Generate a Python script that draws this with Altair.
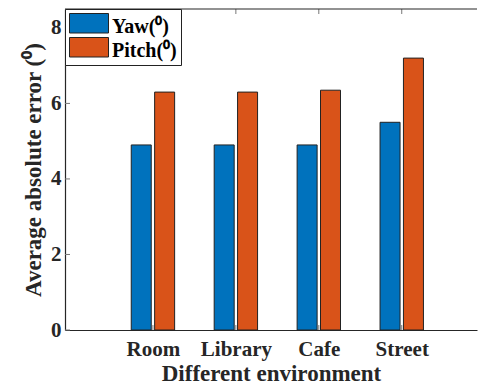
import altair as alt
import pandas as pd

categories = ["Room", "Library", "Cafe", "Street"]
yaw = [4.9, 4.9, 4.9, 5.5]
pitch = [6.3, 6.3, 6.35, 7.2]
series_names = ["Yaw(\u2070)", "Pitch(\u2070)"]
colors = ["#0072BD", "#D95319"]
y_ticks = [0, 2, 4, 6, 8]

rows = []
for i, c in enumerate(categories):
    rows.append({"category": c, "idx": i + 1, "series": series_names[0], "sidx": 0, "value": yaw[i]})
    rows.append({"category": c, "idx": i + 1, "series": series_names[1], "sidx": 1, "value": pitch[i]})
df = pd.DataFrame(rows)
xt_df = pd.DataFrame({"xpos": [i + 1 for i in range(len(categories))]})
yt_df = pd.DataFrame({"value": y_ticks})

W, H = 412, 321
XMAX = W / 85.0
FONT = "Liberation Serif"
AX = "#262626"
label_expr = "[" + ",".join("'%s'" % c for c in categories) + "][datum.value - 1]"
xscale = alt.Scale(domain=[0, XMAX], nice=False, zero=False)
yscale = alt.Scale(domain=[0, 8.5], nice=False)

bars = alt.Chart(df).transform_calculate(
    xpos="datum.idx + (datum.sidx == 0 ? -0.141 : 0.141)"
).mark_bar(size=20, stroke="#222222", strokeWidth=1).encode(
    x=alt.X("xpos:Q", scale=xscale,
            axis=alt.Axis(values=[1, 2, 3, 4], labelExpr=label_expr, title="Different environment",
                          grid=False, ticks=False, labelPadding=8, titlePadding=3,
                          titleFontSize=23,
                          domainColor=AX, domainWidth=1.2)),
    y=alt.Y("value:Q", scale=yscale,
            axis=alt.Axis(values=y_ticks, title="Average absolute error (\u2070)", grid=False, ticks=False,
                          labelPadding=4, titlePadding=5, titleFontSize=23,
                          domainColor=AX, domainWidth=1.2)),
    color=alt.Color("series:N",
                    scale=alt.Scale(domain=series_names, range=colors),
                    legend=alt.Legend(title=None, orient="top-left", offset=0,
                                      strokeColor="#222222", fillColor="white", padding=4,
                                      symbolType="M-1,-1H1V0H-1Z", symbolSize=1521,
                                      symbolStrokeColor="#222222", symbolStrokeWidth=1,
                                      labelFont=FONT, labelFontSize=20, labelFontWeight="bold",
                                      labelBaseline="alphabetic",
                                      labelColor="black", rowPadding=-13, labelOffset=3)),
)

# inward tick marks (MATLAB style)
ytick_marks = alt.Chart(yt_df).mark_rule(color="#777777", strokeWidth=1).encode(
    y=alt.Y("value:Q", scale=yscale), x=alt.value(0), x2=alt.value(5)
)
xtick_bottom = alt.Chart(xt_df).mark_rule(color="#777777", strokeWidth=1).encode(
    x=alt.X("xpos:Q", scale=xscale), y=alt.value(H), y2=alt.value(H - 5)
)
xtick_top = alt.Chart(xt_df).mark_rule(color="#777777", strokeWidth=1).encode(
    x=alt.X("xpos:Q", scale=xscale), y=alt.value(0), y2=alt.value(5)
)

top = alt.Chart(pd.DataFrame({"a": [0]})).mark_rule(color=AX, strokeWidth=1.2).encode(
    y=alt.value(0), x=alt.value(0), x2=alt.value(W)
)

chart = alt.layer(bars, ytick_marks, xtick_bottom, xtick_top, top).properties(
    width=W, height=H, padding={"left": 14, "top": 0, "right": 0, "bottom": 0}
).configure_view(stroke=None).configure_axis(
    labelFont=FONT, titleFont=FONT, labelFontSize=21,
    labelFontWeight="bold", titleFontWeight="bold", labelColor=AX, titleColor=AX
)

chart.save("out.html", embed_options={"renderer": "svg", "actions": False})
